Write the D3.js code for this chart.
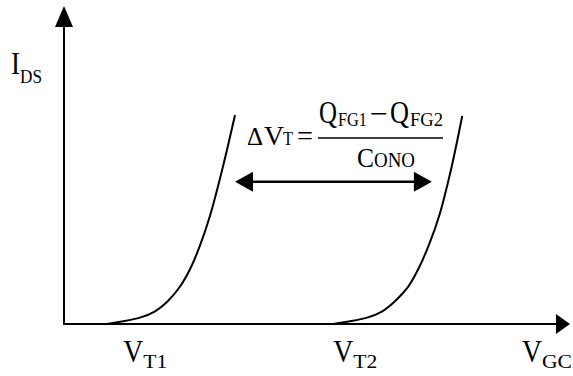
<!DOCTYPE html>
<html>
<head>
<meta charset="utf-8">
<script src="https://cdn.jsdelivr.net/npm/d3@7"></script>
<style>
  body { margin: 0; background: #fff; }
  #chart { width: 573px; height: 376px; }
</style>
</head>
<body>
<div id="chart"></div>
<script>
// V_GC / I_DS in arbitrary units (axes 0..10)
const curve1X = [0.85, 1.11, 1.50, 1.80, 2.04, 2.29, 2.49, 2.69, 2.89, 3.14, 3.38];
const curve1Y = [0, 0.07, 0.20, 0.40, 0.70, 1.17, 1.72, 2.48, 3.43, 4.94, 6.57];
const curve2X = [5.32, 5.59, 5.99, 6.29, 6.53, 6.80, 7.00, 7.21, 7.42, 7.66, 7.87];
const curve2Y = [0, 0.07, 0.20, 0.40, 0.70, 1.17, 1.72, 2.48, 3.43, 4.94, 6.54];

const tickValues = [1.17, 5.32, 9.05];
const tickMain = ["V", "V", "V"];
const tickSub = ["T1", "T2", "GC"];

const shiftArrowX = [3.38, 7.27];
const shiftArrowY = 4.47;

const W = 573, H = 376;
const FONT = "'Liberation Serif', 'Times New Roman', serif";
const svg = d3.select("#chart").append("svg").attr("width", W).attr("height", H);

const x = d3.scaleLinear().domain([0, 10]).range([64, 570]);
const y = d3.scaleLinear().domain([0, 10]).range([324, 6]);

// axes with arrowheads
const axes = svg.append("g");
axes.append("line")
  .attr("x1", x(0)).attr("x2", x(10) - 12)
  .attr("y1", y(0)).attr("y2", y(0))
  .attr("stroke", "#000").attr("stroke-width", 2);
axes.append("path")
  .attr("d", `M${x(10)},${y(0)} L${x(10) - 14},${y(0) - 10} L${x(10) - 14},${y(0) + 10} Z`);
axes.append("line")
  .attr("x1", x(0)).attr("x2", x(0))
  .attr("y1", y(0) + 1).attr("y2", y(10) + 16)
  .attr("stroke", "#000").attr("stroke-width", 2);
axes.append("path")
  .attr("d", `M${x(0)},${y(10)} L${x(0) - 9},${y(10) + 21} L${x(0) + 9},${y(10) + 21} Z`);

// curves
const line = d3.line().x(d => x(d[0])).y(d => y(d[1])).curve(d3.curveCatmullRom.alpha(0.5));
[[curve1X, curve1Y], [curve2X, curve2Y]].forEach(([xs, ys]) => {
  svg.append("path")
    .datum(xs.map((v, i) => [v, ys[i]]))
    .attr("d", line)
    .attr("fill", "none")
    .attr("stroke", "#000")
    .attr("stroke-width", 2);
});

// labels helper
function label(g, str, px, py, size, len) {
  const t = g.append("text").attr("x", px).attr("y", py)
    .style("font-family", FONT)
    .style("font-size", size + "px")
    .style("fill", "#000")
    .text(str);
  if (len) t.attr("textLength", len).attr("lengthAdjust", "spacingAndGlyphs");
  return t;
}

// x tick labels
const ticks = svg.append("g");
tickValues.forEach((v, i) => {
  label(ticks, tickMain[i], x(v), 362, 31, 20);
  label(ticks, tickSub[i], x(v) + 20, 368, 19, tickSub[i] === "GC" ? 30 : 24);
});

// y label
label(svg, "I", 11, 74, 32, 9);
label(svg, "DS", 20, 83, 19, 22);

// shift arrow
const ax0 = x(shiftArrowX[0]), ax1 = x(shiftArrowX[1]), ay = y(shiftArrowY);
svg.append("line")
  .attr("x1", ax0 + 15).attr("x2", ax1 - 15)
  .attr("y1", ay).attr("y2", ay)
  .attr("stroke", "#000").attr("stroke-width", 2.5);
svg.append("path").attr("d", `M${ax0},${ay} L${ax0 + 18},${ay - 10} L${ax0 + 18},${ay + 10} Z`);
svg.append("path").attr("d", `M${ax1},${ay} L${ax1 - 18},${ay - 10} L${ax1 - 18},${ay + 10} Z`);

// formula
const f = svg.append("g");
label(f, "\u0394", 247, 145, 25, 16);
label(f, "V", 264, 145, 27, 20);
label(f, "T", 283, 145, 19, 10);
label(f, "=", 297, 145, 28, 16);
label(f, "Q", 319, 123, 31, 18);
label(f, "FG1", 338, 126, 19, 29);
label(f, "\u2212", 370, 123, 28, 18);
label(f, "Q", 390, 123, 31, 19);
label(f, "FG2", 410, 126, 19, 33);
f.append("line").attr("x1", 318).attr("x2", 443).attr("y1", 138).attr("y2", 138)
  .attr("stroke", "#000").attr("stroke-width", 1.5);
label(f, "C", 357, 167, 27, 17);
label(f, "ONO", 374, 167, 20, 41);
</script>
</body>
</html>
